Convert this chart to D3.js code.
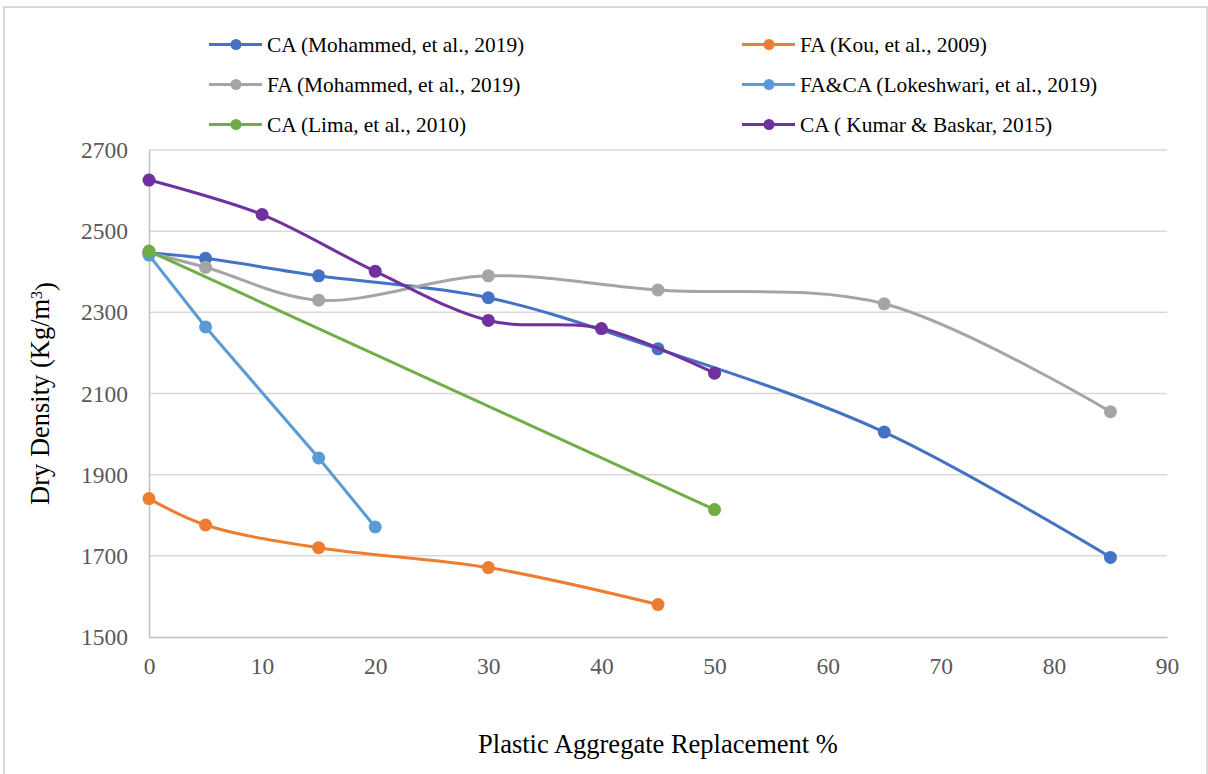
<!DOCTYPE html>
<html>
<head>
<meta charset="utf-8">
<title>Dry Density</title>
<script src="https://d3js.org/d3.v7.min.js"></script>
<style>
body { margin: 0; background: #fff; }
svg text { font-family: "Liberation Serif", "Times New Roman", serif; }
</style>
</head>
<body>
<script>
// data
var caMohX = [0, 5, 15, 30, 45, 65, 85];
var caMohY = [2447, 2433, 2390, 2336, 2210, 2005, 1696];
var faKouX = [0, 5, 15, 30, 45];
var faKouY = [1841, 1776, 1720, 1671, 1580];
var faMohX = [0, 5, 15, 30, 45, 65, 85];
var faMohY = [2447, 2411, 2330, 2390, 2355, 2321, 2055];
var lokX = [0, 5, 15, 20];
var lokY = [2441, 2264, 1941, 1771];
var limaX = [0, 50];
var limaY = [2451, 1814];
var kumarX = [0, 10, 20, 30, 40, 50];
var kumarY = [2626, 2541, 2401, 2280, 2260, 2150];

var seriesNames = ["CA (Mohammed, et al., 2019)", "FA (Kou, et al., 2009)",
  "FA (Mohammed, et al., 2019)", "FA&CA (Lokeshwari, et al., 2019)",
  "CA (Lima, et al., 2010)", "CA ( Kumar & Baskar, 2015)"];
var colors = ["#4472C4", "#ED7D31", "#A5A5A5", "#5B9BD5", "#70AD47", "#7030A0"];
var smooth = [true, true, true, false, false, true];

var xTicks = [0, 10, 20, 30, 40, 50, 60, 70, 80, 90];
var yTicks = [1500, 1700, 1900, 2100, 2300, 2500, 2700];

function pairs(xs, ys) {
  return xs.map(function(v, i) { return { x: v, y: ys[i] }; });
}
var series = [
  pairs(caMohX, caMohY), pairs(faKouX, faKouY), pairs(faMohX, faMohY),
  pairs(lokX, lokY), pairs(limaX, limaY), pairs(kumarX, kumarY)
];

var W = 1208, H = 774;
var margin = { top: 150, right: 41, bottom: 137, left: 149 };
var width = W - margin.left - margin.right,
    height = H - margin.top - margin.bottom;

var svg = d3.select("body").append("svg")
  .attr("width", W)
  .attr("height", H);

// outer chart border
svg.append("rect")
  .attr("x", 4).attr("y", 7)
  .attr("width", 1203).attr("height", 790)
  .attr("fill", "none")
  .attr("stroke", "#d9d9d9")
  .attr("stroke-width", 2);

var x = d3.scaleLinear().domain([0, 90]).range([0, width]);
var y = d3.scaleLinear().domain([1500, 2700]).range([height, 0]);

var g = svg.append("g")
  .attr("transform", "translate(" + margin.left + "," + margin.top + ")");

// horizontal gridlines
g.append("g")
  .selectAll("line")
  .data(yTicks.slice(1))
  .enter().append("line")
  .attr("x1", 0).attr("x2", width)
  .attr("y1", function(d) { return y(d); })
  .attr("y2", function(d) { return y(d); })
  .attr("stroke", "#d9d9d9")
  .attr("stroke-width", 1.5);

// axes
var xAxis = g.append("g")
  .attr("transform", "translate(0," + height + ")")
  .call(d3.axisBottom(x).tickValues(xTicks).tickFormat(d3.format("d")).tickSize(0).tickPadding(20));
xAxis.select(".domain").attr("stroke", "#bfbfbf").attr("stroke-width", 1.5);

var yAxis = g.append("g")
  .call(d3.axisLeft(y).tickValues(yTicks).tickFormat(d3.format("d")).tickSize(0).tickPadding(21));
yAxis.select(".domain").attr("stroke", "#bfbfbf").attr("stroke-width", 1.5);

g.selectAll(".tick text")
  .attr("fill", "#595959")
  .style("font-size", "23.5px")
  .style("font-family", "'Liberation Serif', serif");

// lines
var lineSmooth = d3.line()
  .x(function(d) { return x(d.x); })
  .y(function(d) { return y(d.y); })
  .curve(d3.curveCatmullRom.alpha(0.5));
var lineStraight = d3.line()
  .x(function(d) { return x(d.x); })
  .y(function(d) { return y(d.y); });

series.forEach(function(s, i) {
  g.append("path")
    .datum(s)
    .attr("d", smooth[i] ? lineSmooth : lineStraight)
    .attr("fill", "none")
    .attr("stroke", colors[i])
    .attr("stroke-width", 3);
  g.selectAll(".pt" + i)
    .data(s)
    .enter().append("circle")
    .attr("class", "pt" + i)
    .attr("cx", function(d) { return x(d.x); })
    .attr("cy", function(d) { return y(d.y); })
    .attr("r", 6.5)
    .attr("fill", colors[i]);
});

// legend
var legend = svg.append("g");
seriesNames.forEach(function(name, i) {
  var col = i % 2, row = Math.floor(i / 2);
  var lx = col === 0 ? 209 : 742;
  var ly = 44.5 + row * 40;
  var item = legend.append("g").attr("transform", "translate(" + lx + "," + ly + ")");
  item.append("line")
    .attr("x1", 0).attr("x2", 53)
    .attr("stroke", colors[i]).attr("stroke-width", 3);
  item.append("circle")
    .attr("cx", 27).attr("r", 5.5).attr("fill", colors[i]);
  item.append("text")
    .attr("x", 58).attr("dy", "0.35em")
    .style("font-size", "21.4px")
    .attr("fill", "#000")
    .text(name);
});

// axis titles
var yt = svg.append("text")
  .attr("transform", "translate(49," + (margin.top + height / 2) + ") rotate(-90)")
  .attr("text-anchor", "middle")
  .style("font-size", "26.5px")
  .attr("fill", "#000");
yt.append("tspan").text("Dry Density (Kg/m");
yt.append("tspan").attr("dy", "-0.45em").style("font-size", "16px").text("3");
yt.append("tspan").attr("dy", "0.45em").text(")");

svg.append("text")
  .attr("x", margin.left + width / 2)
  .attr("y", 753)
  .attr("text-anchor", "middle")
  .style("font-size", "26.5px")
  .attr("fill", "#000")
  .text("Plastic Aggregate Replacement %");
</script>
</body>
</html>
